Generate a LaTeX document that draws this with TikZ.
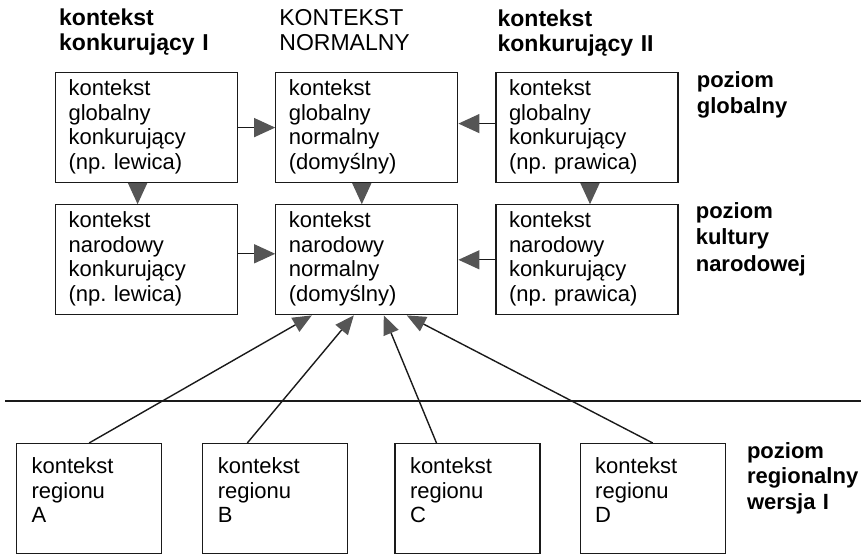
\documentclass[tikz,border=0pt]{standalone}
\usepackage{fontspec}
\setmainfont{Liberation Sans}
\usepackage{tikz}
\usetikzlibrary{arrows.meta,positioning}
\definecolor{ctxdark}{HTML}{1A1A1A}
\definecolor{ctxgray}{HTML}{555555}
\tikzset{
  ctxbox/.style={draw=ctxdark,line width=1.2pt,align=left,inner xsep=13pt,inner ysep=0pt,
                 text width=156pt,text height=23pt,text depth=87pt,
                 font=\fontsize{22}{24.5}\selectfont},
  regionbox/.style={ctxbox,inner xsep=15pt,text width=115pt,text height=30pt,text depth=80pt},
  headlabel/.style={anchor=base west,inner sep=0pt,align=left,text width=190pt,
                    font=\fontsize{23}{24.5}\selectfont\bfseries},
  levellabel/.style={headlabel,text width=125pt,font=\fontsize{22}{25.5}\selectfont\bfseries},
  link/.style={-{Triangle[length=21pt,width=19pt,color=ctxgray]},line width=1.2pt,draw=ctxdark},
  uplink/.style={-{Triangle[length=19pt,width=16pt,color=ctxgray]},line width=1.4pt,draw=ctxdark},
  divider/.style={line width=2pt,draw=ctxdark}
}
\frenchspacing
\begin{document}
\begin{tikzpicture}[x=1pt,y=-1pt,node distance=21pt and 37pt]
    \useasboundingbox (0,0) rectangle (861,556);

    \node[ctxbox,anchor=north west] (globleft) at (55,72) {kontekst\\globalny\\konkurujący\\(np. lewica)};
    \node[ctxbox,right=of globleft] (globnorm) {kontekst\\globalny\\normalny\\(domyślny)};
    \node[ctxbox,right=of globnorm] (globright) {kontekst\\globalny\\konkurujący\\(np. prawica)};

    \node[ctxbox,below=of globleft] (natleft) {kontekst\\narodowy\\konkurujący\\(np. lewica)};
    \node[ctxbox,below=of globnorm] (natnorm) {kontekst\\narodowy\\normalny\\(domyślny)};
    \node[ctxbox,below=of globright] (natright) {kontekst\\narodowy\\konkurujący\\(np. prawica)};

    \node[regionbox,anchor=north west] (regA) at (16,443) {kontekst\\regionu\\A};
    \node[regionbox,right=40pt of regA] (regB) {kontekst\\regionu\\B};
    \node[regionbox,right=46pt of regB] (regC) {kontekst\\regionu\\C};
    \node[regionbox,right=39pt of regC] (regD) {kontekst\\regionu\\D};

    \node[headlabel] (headleft) at ([xshift=4pt,yshift=46pt]globleft.north west) {kontekst\\konkurujący I};
    \node[headlabel,font=\fontsize{23}{24.5}\selectfont] (headnorm) at ([xshift=4pt,yshift=46pt]globnorm.north west) {KONTEKST\\NORMALNY};
    \node[headlabel] (headright) at ([xshift=2pt,yshift=45pt]globright.north west) {kontekst\\konkurujący II};

    \node[levellabel] (levelglob) at ([xshift=18pt,yshift=-16pt]globright.north east) {poziom\\globalny};
    \node[levellabel,font=\fontsize{22}{26.5}\selectfont\bfseries] (levelnat) at ([xshift=17pt,yshift=-14pt]natright.north east) {poziom\\kultury\\narodowej};
    \node[levellabel] (levelreg) at ([xshift=21pt,yshift=-15pt]regD.north east) {poziom\\regionalny\\wersja I};

    \coordinate (divleft) at (5,401);
    \coordinate (divright) at (861,401);
    \draw[divider] (divleft) -- (divright);

    \draw[link] (globleft.east) -- (globnorm.west);
    \draw[link] ([yshift=4pt]globright.west) -- ([yshift=4pt]globnorm.east);
    \draw[link] ([yshift=6pt]natleft.east) -- ([yshift=6pt]natnorm.west);
    \draw[link] (natright.west) -- (natnorm.east);
    \draw[link] ([xshift=-9pt]globleft.south) -- ([xshift=-9pt]globleft.south |- natleft.north);
    \draw[link] ([xshift=-5pt]globnorm.south) -- ([xshift=-5pt]globnorm.south |- natnorm.north);
    \draw[link] ([xshift=3pt]globright.south) -- ([xshift=3pt]globright.south |- natright.north);

    \draw[uplink] (regA.north) -- ([xshift=-55pt]natnorm.south);
    \draw[uplink] ([xshift=-28pt]regB.north) -- ([xshift=-13pt]natnorm.south);
    \draw[uplink] ([xshift=-31pt]regC.north) -- ([xshift=17pt]natnorm.south);
    \draw[uplink] (regD.north) -- ([xshift=40pt]natnorm.south);
  \end{tikzpicture}
\end{document}
